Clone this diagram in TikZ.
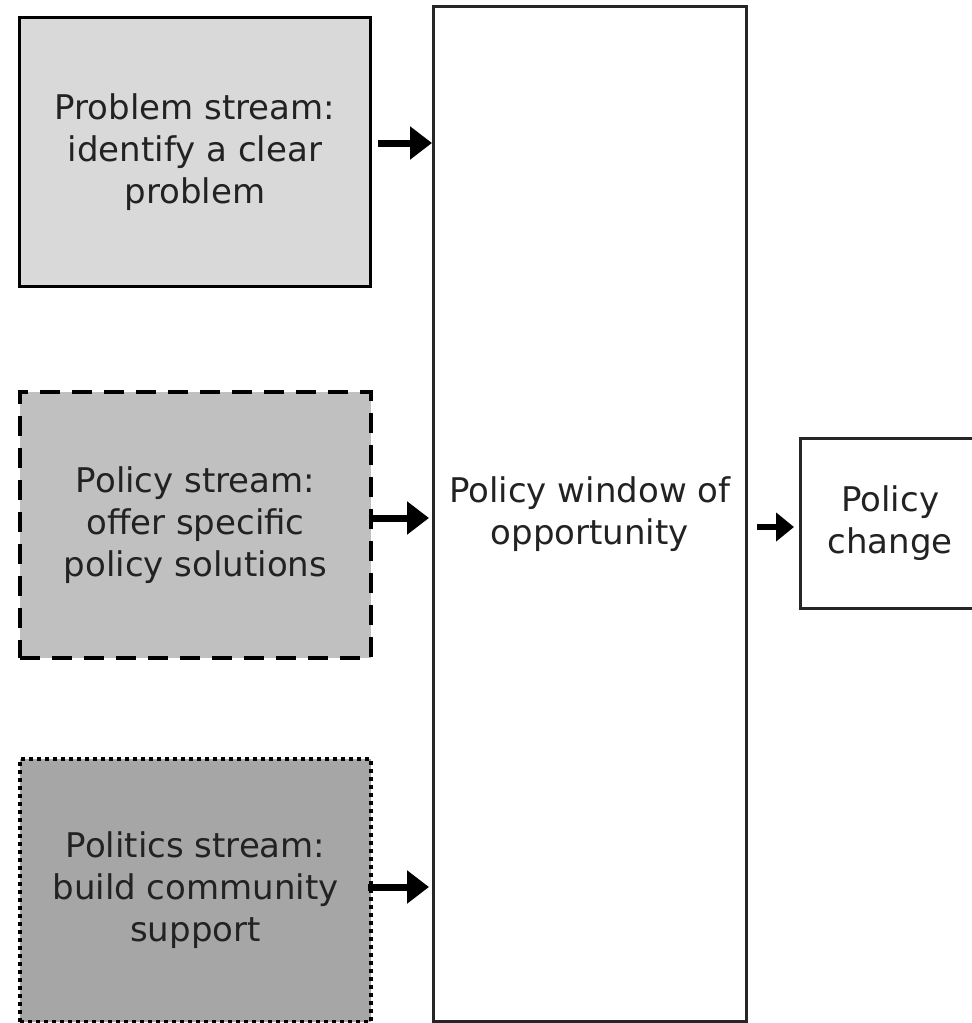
\documentclass[tikz,border=0pt]{standalone}
\usepackage{fontspec}
\setmainfont{DejaVu Sans}
\usetikzlibrary{arrows.meta}
\definecolor{fillA}{HTML}{D9D9D9}
\definecolor{fillB}{HTML}{C0C0C0}
\definecolor{fillC}{HTML}{A6A6A6}
\definecolor{txt}{HTML}{222222}
\tikzset{
  streambox/.style={draw=black, line width=3pt, anchor=north west, inner sep=0pt,
    align=center, text=txt, font=\fontsize{34}{42}\selectfont},
  winbox/.style={draw=black!85, line width=2.5pt, anchor=north west, inner sep=0pt,
    align=center, text=txt, fill=white, font=\fontsize{34}{42}\selectfont},
  flow/.style={-{Triangle[length=22pt,width=32pt]}, line width=7pt, black},
  flowsmall/.style={-{Triangle[length=18pt,width=28pt]}, line width=6pt, black},
}
\begin{document}
\begin{tikzpicture}[x=1pt,y=-1pt]
\useasboundingbox[fill=white] (0,0) rectangle (972,1023);
\node[streambox, fill=fillA, minimum width=351pt, minimum height=269pt] (prob) at (18,16)
  {Problem stream:\\identify a clear\\problem};
\node[streambox, fill=fillB, line width=4pt, dash pattern=on 20pt off 12pt, minimum width=351pt, minimum height=266pt] (pol) at (18,390)
  {Policy stream:\\offer specific\\policy solutions};
\node[streambox, fill=fillC, line width=4pt, dash pattern=on 4pt off 4pt, minimum width=351pt, minimum height=263pt] (polit) at (18,757)
  {Politics stream:\\build community\\support};
\node[winbox, minimum width=313pt, minimum height=1015pt] (win) at (432,5)
  {Policy window of\\opportunity};
\node[winbox, minimum width=180pt, minimum height=170pt] (chg) at (799,437)
  {Policy\\change};
\coordinate (a1) at (378,143);
\coordinate (a2) at (371,518);
\coordinate (a3) at (368,887);
\coordinate (a4) at (757,527);
\draw[flow] (a1) -- (a1 -| win.west);
\draw[flow] (a2) -- ([xshift=-3pt]a2 -| win.west);
\draw[flow] (a3) -- ([xshift=-3pt]a3 -| win.west);
\draw[flowsmall] (a4) -- ([xshift=-5pt]a4 -| chg.west);
\end{tikzpicture}
\end{document}
